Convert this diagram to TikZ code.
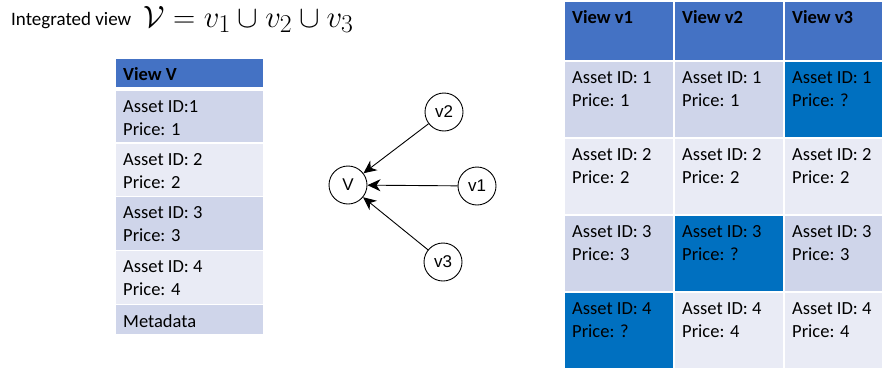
\documentclass[tikz,border=0pt]{standalone}
\usepackage{graphicx}
\usepackage{fontspec}
\setmainfont{Carlito}
\newfontfamily\graphfont{Liberation Sans}
\usetikzlibrary{arrows.meta,positioning}

\definecolor{hdrblue}{HTML}{4472C4}
\definecolor{rowdark}{HTML}{CFD5EA}
\definecolor{rowlight}{HTML}{E9EBF5}
\definecolor{missblue}{HTML}{0070C0}

\tikzset{
	cell/.style={rectangle, anchor=north west, inner sep=0pt, outer sep=0pt},
	celltext/.style={anchor=base west, inner sep=0pt, font=\fontsize{18.5}{23}\selectfont},
	hdrtext/.style={celltext, font=\fontsize{18.5}{23}\selectfont\bfseries},
	vnode/.style={circle, draw, line width=0.9pt, minimum size=38pt, inner sep=0pt, font=\graphfont\fontsize{17}{20}\selectfont},
	link/.style={line width=0.9pt, -{Stealth[length=13pt,width=12pt,inset=4pt]}}
}

\begin{document}
\begin{tikzpicture}[x=1pt,y=-1pt]
	\useasboundingbox (0,0) rectangle (882,367);

	% title
	\node[celltext, font=\fontsize{19}{23}\selectfont] (title) at (11,25) {Integrated view};
	\node[anchor=base west, inner sep=0pt, font=\fontsize{24.88}{30}\selectfont] (formula) at (143,27) {\scalebox{1.24}{$\mathcal{V} = v_1 \cup v_2 \cup v_3$}};

	% integrated view V
	\node[cell, fill=hdrblue, minimum width=147, minimum height=28] (vh) at (116,59) {};
	\node[hdrtext] at ([xshift=7,yshift=-21]vh.north west) {View V};
	\foreach \r/\y/\h/\col/\id in {1/91/51/rowdark/{ID:1},2/144/52/rowlight/{ID: 2},3/197/53/rowdark/{ID: 3},4/251/53/rowlight/{ID: 4}}{
		\node[cell, fill=\col, minimum width=147, minimum height=\h] (vr\r) at (116,\y) {};
		\node[celltext] at ([xshift=7,yshift=-21]vr\r.north west) {Asset \id};
		\node[celltext] at ([xshift=7,yshift=-44]vr\r.north west) {Price: \r};
	}
	\node[cell, fill=rowdark, minimum width=147, minimum height=29] (vm) at (116,305) {};
	\node[celltext] at ([xshift=7,yshift=-22]vm.north west) {Metadata};

	% graph of views
	\node[vnode] (V) at (348,185) {V};
	\node[vnode] (v2) at (444,112) {v2};
	\node[vnode] (v1) at (477,186) {v1};
	\node[vnode] (v3) at (443,262) {v3};
	\draw[link] (v2) -- (V);
	\draw[link] (v1) -- (V);
	\draw[link] (v3) -- (V);

	% views v1, v2, v3
	\foreach \c/\x/\w in {1/565/108,2/675/108,3/785/97}{
		\node[cell, fill=hdrblue, minimum width=\w, minimum height=58] (h\c) at (\x,2) {};
		\node[hdrtext] at ([xshift=7,yshift=-21]h\c.north west) {View v\c};
	}
	\foreach \c/\x/\w/\r/\y/\col/\p in {
		1/565/108/1/62/rowdark/1, 2/675/108/1/62/rowdark/1, 3/785/97/1/62/missblue/?,
		1/565/108/2/139/rowlight/2, 2/675/108/2/139/rowlight/2, 3/785/97/2/139/rowlight/2,
		1/565/108/3/216/rowdark/3, 2/675/108/3/216/missblue/?, 3/785/97/3/216/rowdark/3,
		1/565/108/4/293/missblue/?, 2/675/108/4/293/rowlight/4, 3/785/97/4/293/rowlight/4}{
		\node[cell, fill=\col, minimum width=\w, minimum height=75] (c\r\c) at (\x,\y) {};
		\node[celltext] at ([xshift=7,yshift=-21]c\r\c.north west) {Asset ID: \r};
		\node[celltext] at ([xshift=7,yshift=-44]c\r\c.north west) {Price: \p};
	}
\end{tikzpicture}
\end{document}
